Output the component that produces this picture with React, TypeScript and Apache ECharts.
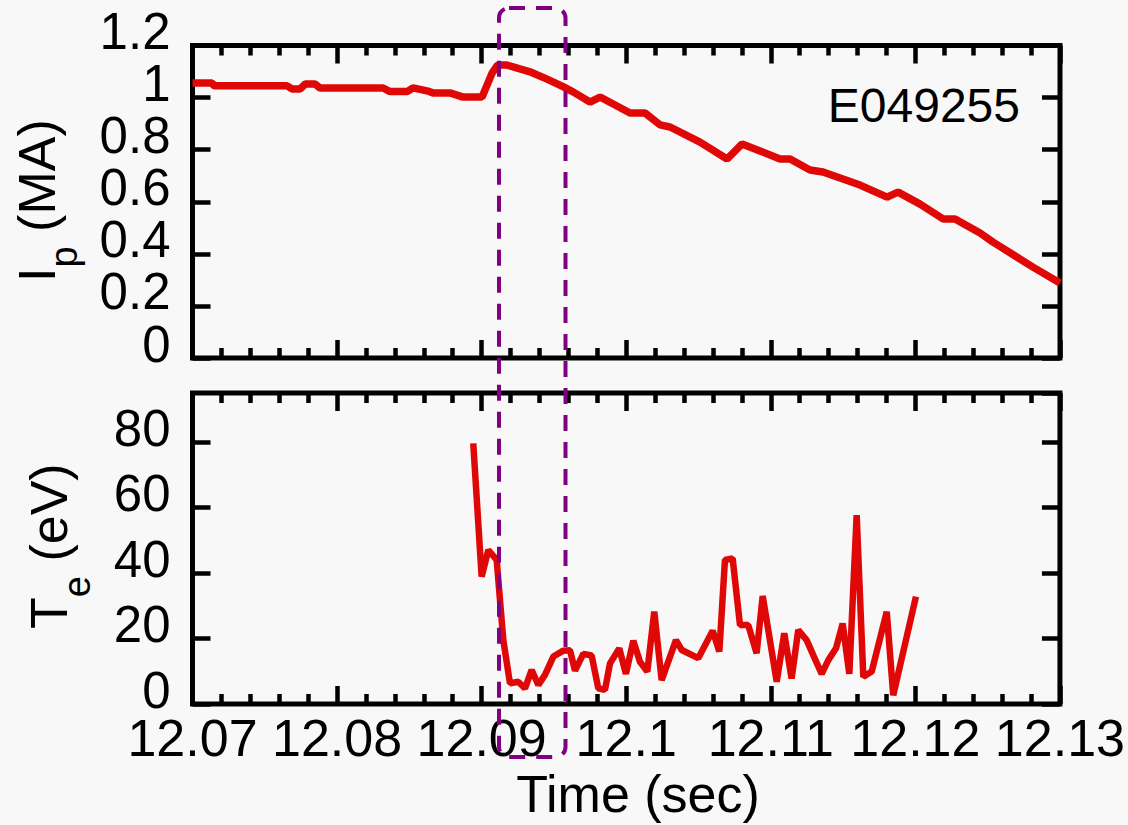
import React, { useEffect, useRef } from "react";
import * as echarts from "echarts";

// Plasma current Ip (MA) against time (s)
const ipTime = [
  12.07, 12.07135, 12.0715, 12.07654, 12.0769, 12.07744, 12.0778, 12.07847, 12.07882,
  12.08318, 12.08366, 12.08484, 12.08525, 12.08622, 12.08663, 12.08781, 12.08871,
  12.09003, 12.09072, 12.0911, 12.09175, 12.09334, 12.09452, 12.09563, 12.09632,
  12.09749, 12.09819, 12.10026, 12.1013, 12.10234, 12.10303, 12.1051, 12.10697,
  12.10801, 12.10925, 12.11064, 12.11133, 12.11271, 12.11361, 12.11479, 12.11617,
  12.11804, 12.1188, 12.12032, 12.12191, 12.12274, 12.12447, 12.12537, 12.12813, 12.13,
];
const ipValue = [
  1.056, 1.056, 1.045, 1.045, 1.033, 1.033, 1.052, 1.052, 1.037,
  1.037, 1.023, 1.023, 1.037, 1.026, 1.018, 1.018, 1.002,
  1.002, 1.094, 1.125, 1.125, 1.099, 1.071, 1.042, 1.022,
  0.983, 1.002, 0.941, 0.941, 0.895, 0.887, 0.829, 0.764,
  0.822, 0.795, 0.764, 0.764, 0.722, 0.714, 0.691, 0.664,
  0.618, 0.637, 0.591, 0.534, 0.534, 0.48, 0.445, 0.349, 0.288,
];

// Electron temperature Te (eV) against time (s)
const teTime = [
  12.08942, 12.09, 12.09046, 12.09104, 12.0915, 12.09196, 12.09253, 12.093, 12.09346,
  12.09392, 12.09438, 12.09496, 12.09565, 12.09611, 12.09646, 12.09703, 12.09761,
  12.09807, 12.09853, 12.09888, 12.09952, 12.09998, 12.10049, 12.10095, 12.10146,
  12.10194, 12.10245, 12.10344, 12.10384, 12.10498, 12.10598, 12.10644, 12.10683,
  12.10736, 12.10787, 12.10844, 12.10902, 12.10944, 12.11041, 12.11093, 12.11144,
  12.1119, 12.11248, 12.11299, 12.11352, 12.11398, 12.11451, 12.11497, 12.11543,
  12.11594, 12.1164, 12.11698, 12.11802, 12.11847, 12.12004,
];
const teValue = [
  79.6, 38.9, 47.0, 44.0, 19.5, 6.3, 6.8, 4.8, 10.4,
  5.8, 8.9, 14.5, 16.3, 16.4, 10.2, 15.3, 14.8,
  4.8, 4.3, 12.4, 17.0, 9.2, 19.3, 12.9, 9.9,
  28.2, 7.3, 19.5, 16.5, 14.0, 22.4, 16.0, 44.0,
  44.5, 24.1, 24.1, 15.5, 33.0, 6.8, 21.6, 7.8,
  22.6, 19.5, 14.4, 9.2, 13.4, 17.0, 24.6, 9.2,
  57.7, 8.3, 9.9, 28.2, 2.7, 32.8,
];

// Axis ranges and tick steps
const timeRange = [12.07, 12.13];
const timeStep = 0.01;
const ipRange = [0, 1.2];
const ipStep = 0.2;
const teRange = [0, 95];
const teStep = 20;

// Time window highlighted by the dashed box
const windowStart = 12.0912;
const windowEnd = 12.0958;

const shotLabel = "E049255";

const FONT = "'Liberation Sans', Arial, Helvetica, sans-serif";
const RED = "#e00707";
const PURPLE = "#800080";
const INK = "#000000";

const GRID_LEFT = 192.5;
const GRID_WIDTH = 867.5;

function timeAxis(gridIndex: number, position: "top" | "bottom", labels: boolean) {
  return {
    type: "value",
    gridIndex,
    position,
    min: timeRange[0],
    max: timeRange[1],
    interval: timeStep,
    axisLine: { show: false, onZero: false },
    axisTick: { show: true, inside: true, length: 18, lineStyle: { color: INK, width: 4.5 } },
    minorTick: { show: true, splitNumber: 5, length: 10, lineStyle: { color: INK, width: 4.5 } },
    splitLine: { show: false },
    minorSplitLine: { show: false },
    axisLabel: labels
      ? {
          show: true,
          margin: 14,
          lineHeight: 40,
          color: INK,
          fontSize: 52,
          fontFamily: FONT,
          formatter: (v: number) => String(parseFloat(v.toFixed(2))),
        }
      : { show: false },
  };
}

function valueAxis(
  gridIndex: number,
  position: "left" | "right",
  range: number[],
  step: number,
  digits: number,
  labels: boolean
) {
  return {
    type: "value",
    gridIndex,
    position,
    min: range[0],
    max: range[1],
    interval: step,
    axisLine: { show: false, onZero: false },
    axisTick: { show: true, inside: true, length: 18, lineStyle: { color: INK, width: 4.5 } },
    splitLine: { show: false },
    axisLabel: labels
      ? {
          show: true,
          margin: 22,
          color: INK,
          fontSize: 51,
          fontFamily: FONT,
          // numbers sit a little above their tick marks
          verticalAlign: "bottom",
          lineHeight: 28,
          showMaxLabel: range[1] % step === 0 || step < 1,
          formatter: (v: number) => String(parseFloat(v.toFixed(digits))),
        }
      : { show: false },
  };
}

function textStyle(text: string, size: number, align: string) {
  return {
    text,
    fontSize: size,
    fontFamily: FONT,
    fill: INK,
    textAlign: align,
    align,
    textVerticalAlign: "middle",
    verticalAlign: "middle",
  };
}

// Rotated axis title with a subscript: main letter, subscript, then unit
function rotatedTitle(
  x: number,
  y: number,
  main: string,
  mainAdvance: number,
  sub: string,
  subAdvance: number,
  subDrop: number,
  unit: string
) {
  return {
    type: "group",
    x,
    y,
    rotation: Math.PI / 2,
    children: [
      { type: "text", x: 0, y: -18, style: textStyle(main, 52, "left") },
      { type: "text", x: mainAdvance, y: subDrop - 13.2, style: textStyle(sub, 38, "left") },
      {
        type: "text",
        x: mainAdvance + subAdvance + 14.5,
        y: -18,
        style: textStyle(unit, 52, "left"),
      },
    ],
  };
}

export default function App() {
  const ref = useRef<HTMLDivElement>(null);

  useEffect(() => {
    document.body.style.margin = "0";
    if (!ref.current) return;
    const chart = echarts.init(ref.current, undefined, { renderer: "svg" });

    const ipData = ipTime.map((t, i) => [t, ipValue[i]]);
    const teData = teTime.map((t, i) => [t, teValue[i]]);

    const gridStyle = {
      show: true,
      borderColor: INK,
      borderWidth: 5,
      backgroundColor: "transparent",
    };

    chart.setOption({
      animation: false,
      backgroundColor: "#f8f8f8",
      grid: [
        { left: GRID_LEFT, top: 45.5, width: GRID_WIDTH, height: 312.5, ...gridStyle },
        { left: GRID_LEFT, top: 393, width: GRID_WIDTH, height: 311, ...gridStyle },
      ],
      xAxis: [
        timeAxis(0, "bottom", false),
        timeAxis(0, "top", false),
        timeAxis(1, "bottom", true),
        timeAxis(1, "top", false),
      ],
      yAxis: [
        valueAxis(0, "left", ipRange, ipStep, 1, true),
        valueAxis(0, "right", ipRange, ipStep, 1, false),
        valueAxis(1, "left", teRange, teStep, 0, true),
        valueAxis(1, "right", teRange, teStep, 0, false),
      ],
      series: [
        {
          type: "line",
          name: "Ip",
          xAxisIndex: 0,
          yAxisIndex: 0,
          data: ipData,
          symbol: "none",
          clip: true,
          lineStyle: { color: RED, width: 7.5 },
          z: 3,
        },
        {
          type: "line",
          name: "Te",
          xAxisIndex: 2,
          yAxisIndex: 2,
          data: teData,
          symbol: "none",
          clip: true,
          lineStyle: { color: RED, width: 6.5 },
          z: 3,
        },
      ],
    });

    const x0 = chart.convertToPixel({ xAxisIndex: 2 }, windowStart) as number;
    const x1 = chart.convertToPixel({ xAxisIndex: 2 }, windowEnd) as number;

    chart.setOption({
      graphic: [
        {
          type: "text",
          x: 1020,
          y: 105,
          style: textStyle(shotLabel, 48, "right"),
        },
        {
          type: "text",
          x: 638,
          y: 794,
          style: textStyle("Time (sec)", 52, "center"),
        },
        rotatedTitle(55, 282, "I", 14.5, "p", 21.1, 22, "(MA)"),
        rotatedTitle(67, 629, "T", 31.8, "e", 21.1, 23, "(eV)"),
        {
          type: "rect",
          z: 100,
          shape: { x: x0, y: 8, width: x1 - x0, height: 749, r: 10 },
          style: {
            fill: "transparent",
            stroke: PURPLE,
            lineWidth: 4,
            lineDash: [16, 11],
          },
        },
      ],
    });

    return () => {
      chart.dispose();
    };
  }, []);

  return <div ref={ref} style={{ width: 1128, height: 825 }} />;
}
